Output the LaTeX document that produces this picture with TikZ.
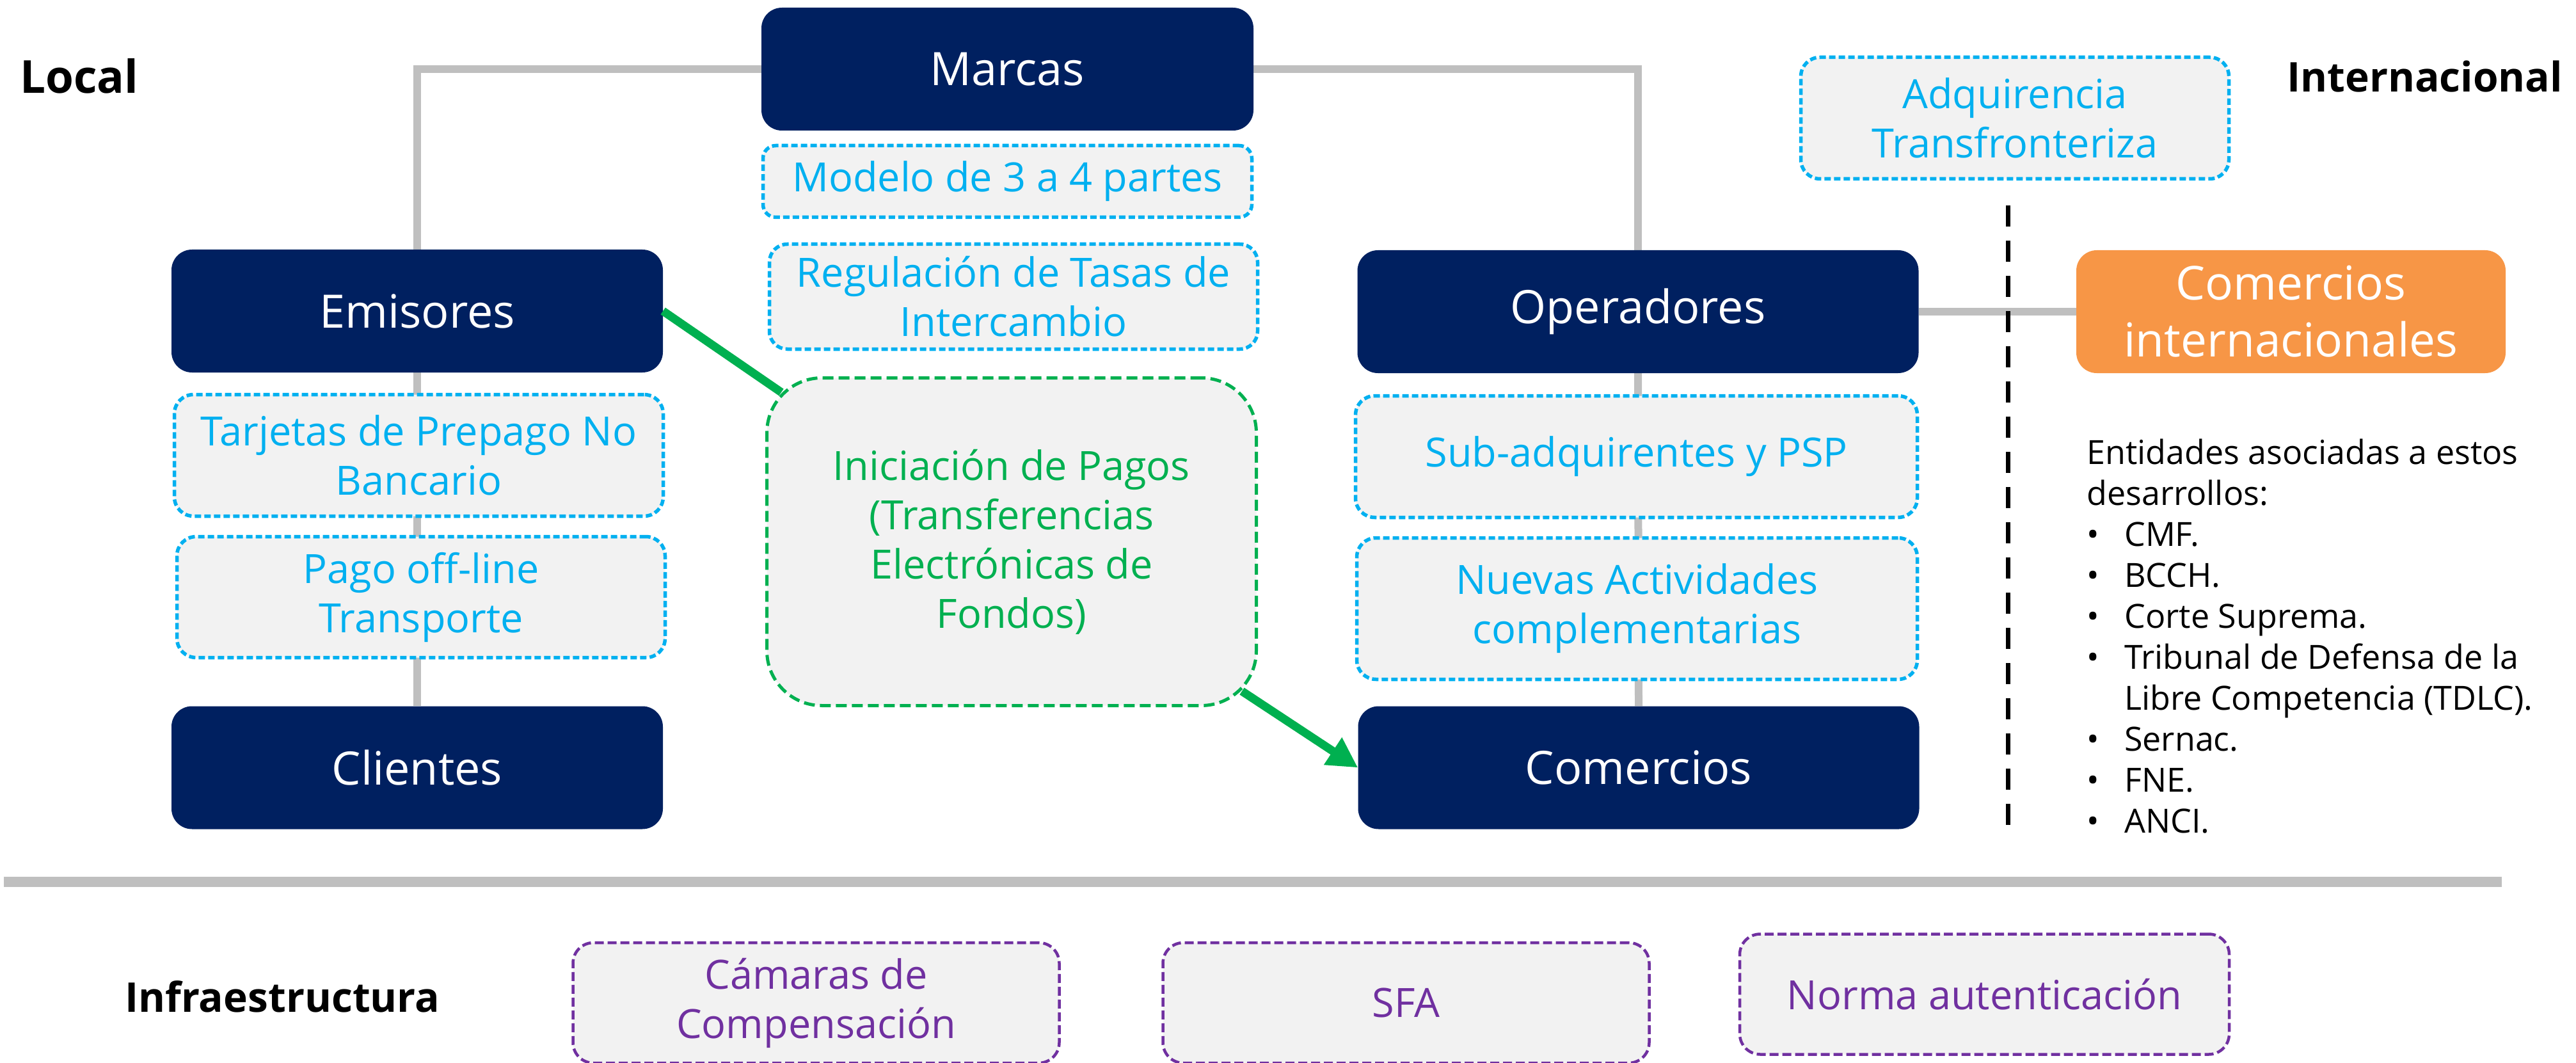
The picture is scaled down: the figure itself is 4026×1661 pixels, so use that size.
\documentclass[tikz,border=0pt]{standalone}
\usepackage{fontspec}
\setmainfont{Open Sans}
\usetikzlibrary{arrows.meta,calc}
\definecolor{navy}{HTML}{002060}
\definecolor{lblue}{HTML}{00B0F0}
\definecolor{lgray}{HTML}{F2F2F2}
\definecolor{grn}{HTML}{00B050}
\definecolor{orng}{HTML}{F79646}
\definecolor{purp}{HTML}{7030A0}
\definecolor{lineg}{HTML}{BFBFBF}
\pgfdeclarelayer{background}
\pgfsetlayers{background,main}
\begin{document}
\begin{tikzpicture}[x=1pt,y=-1pt,
  navybox/.style={fill=navy, rounded corners=32pt, text=white, minimum height=192pt, inner sep=0pt, align=center, font=\fontsize{72}{89}\selectfont},
  orangebox/.style={navybox, fill=orng, font=\fontsize{73}{89}\selectfont},
  bluebox/.style={fill=lgray, draw=lblue, line width=5.5pt, dash pattern=on 10pt off 5pt, rounded corners=30pt, text=lblue, inner sep=0pt, align=center, font=\fontsize{63}{77}\selectfont},
  greenbox/.style={bluebox, draw=grn, text=grn, line width=5pt, dash pattern=on 17pt off 8pt, rounded corners=86pt},
  purpbox/.style={bluebox, draw=purp, text=purp, line width=4.5pt, dash pattern=on 14pt off 6pt, rounded corners=32pt, minimum width=760pt, minimum height=188pt},
  conn/.style={draw=lineg, line width=12pt},
  garrow/.style={draw=grn, line width=13pt},
  title/.style={anchor=base west, inner sep=0pt, font=\bfseries\fontsize{64}{77}\selectfont},
  divider/.style={draw=black, line width=7pt, dash pattern=on 33pt off 22pt}
]
\useasboundingbox (0,0) rectangle (4026,1661);

% titles
\node[title, font=\bfseries\fontsize{71}{85}\selectfont] (local) at (31,146) {Local};
\node[title] (internacional) at (3574,144) {Internacional};
\node[title] (infra) at (195,1581) {Infraestructura};

% main navy boxes
\node[navybox, minimum width=769pt] (marcas) at (1574.5,108) {Marcas};
\node[navybox, minimum width=768pt] (emisores) at (652,486) {Emisores};
\node[navybox, minimum width=768pt] (clientes) at (652,1199.5) {Clientes};
\node[navybox, minimum width=877pt] (operadores) at (2560,487) {Operadores};
\node[navybox, minimum width=877pt] (comercios) at (2561,1199.5) {Comercios};
\node[orangebox, minimum width=671pt] (cinter) at (3580.5,487) {Comercios\\internacionales};

% blue dashed boxes
\node[bluebox, minimum width=764pt, minimum height=112pt, rounded corners=20pt] (modelo) at (1574.5,283.5) {Modelo de 3 a 4 partes};
\node[bluebox, minimum width=763pt, minimum height=164pt, rounded corners=28pt] (regulacion) at (1584,463.5) {Regulación de Tasas de\\Intercambio};
\node[bluebox, minimum width=764pt, minimum height=190pt] (tarjetas) at (654.5,711.5) {Tarjetas de Prepago No\\Bancario};
\node[bluebox, minimum width=763pt, minimum height=189pt] (pago) at (658,933) {Pago off-line\\Transporte};
\node[bluebox, minimum width=878pt, minimum height=190pt] (subadq) at (2557.5,713.5) {Sub-adquirentes y PSP};
\node[bluebox, minimum width=876pt, minimum height=221pt] (nuevas) at (2558.5,951) {Nuevas Actividades\\complementarias};
\node[bluebox, minimum width=669pt, minimum height=190pt] (adquirencia) at (3149,184.5) {Adquirencia\\Transfronteriza};

% green box
\node[greenbox, minimum width=765pt, minimum height=512pt] (inic) at (1581,846.5) {Iniciación de Pagos\\(Transferencias\\Electrónicas de\\Fondos)};

% purple boxes
\node[purpbox] (camaras) at (1275.5,1567) {Cámaras de\\Compensación};
\node[purpbox] (sfa) at (2197.5,1567) {SFA};
\node[purpbox, minimum width=765pt] (norma) at (3101.5,1553.5) {Norma autenticación};

% entities list
\node[anchor=north west, inner sep=0pt, align=left, font=\fontsize{52}{64}\selectfont] (entidades) at (3261,686)
{Entidades asociadas a estos\\
desarrollos:\\
\makebox[59pt][l]{•}CMF.\\
\makebox[59pt][l]{•}BCCH.\\
\makebox[59pt][l]{•}Corte Suprema.\\
\makebox[59pt][l]{•}Tribunal de Defensa de la\\
\hspace*{59pt}Libre Competencia (TDLC).\\
\makebox[59pt][l]{•}Sernac.\\
\makebox[59pt][l]{•}FNE.\\
\makebox[59pt][l]{•}ANCI.};

% free ends
\coordinate (sepL) at (6,1378);
\coordinate (sepR) at (3910,1378);
\coordinate (divT) at (3138,321);
\coordinate (divB) at (3138,1295);

% gray connectors behind boxes
\begin{pgfonlayer}{background}
\draw[conn] (emisores.north) |- (marcas.west);
\draw[conn] (marcas.east) -| (operadores.north);
\draw[conn] (emisores.south) -- (clientes.north);
\draw[conn] (operadores.south) -- (comercios.north);
\draw[conn] (operadores.east) -- (cinter.west);
\end{pgfonlayer}

\draw[draw=lineg, line width=16pt] (sepL) -- (sepR);
\draw[divider] (divT) -- (divB);

% green arrows
\draw[garrow] (emisores.east) -- ([shift={(25,25)}]inic.north west);
\draw[garrow, -{Triangle[length=47pt,width=48pt]}] ([shift={(-25,-25)}]inic.south east) -- (comercios.west);
\end{tikzpicture}
\end{document}
